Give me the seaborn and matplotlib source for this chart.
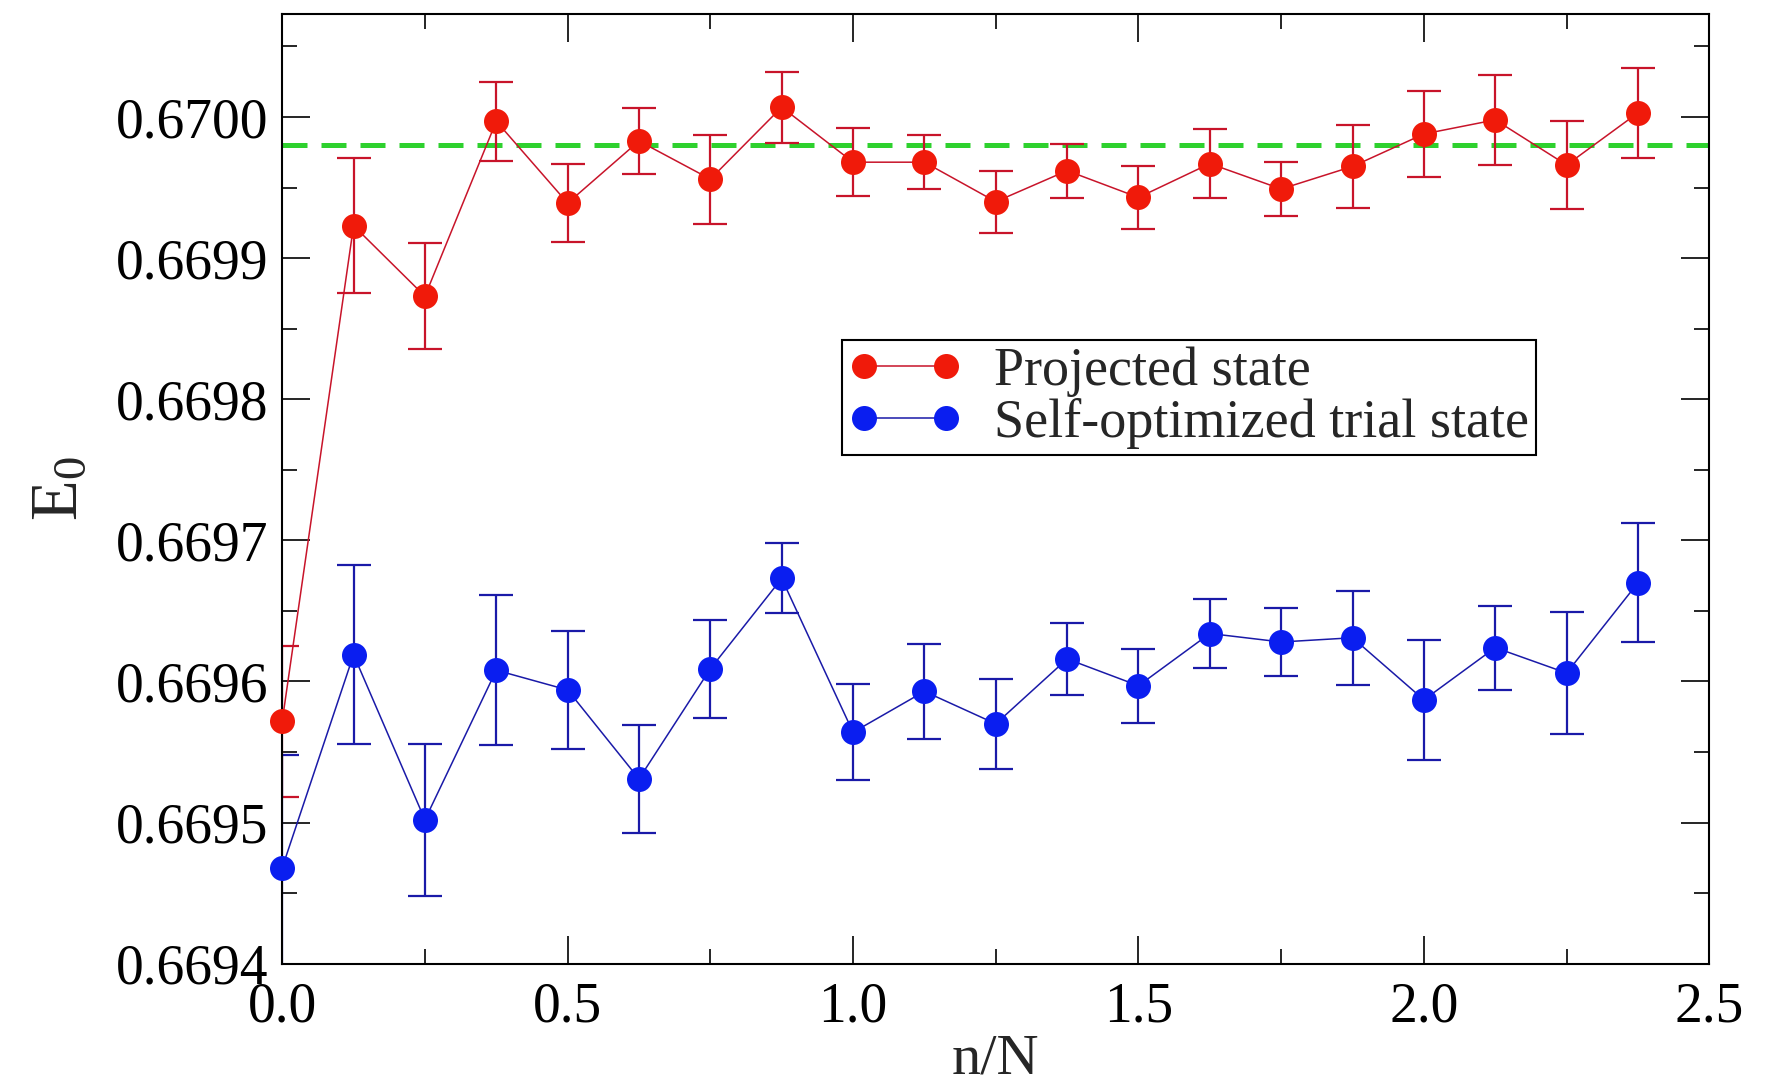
import matplotlib
matplotlib.use("Agg")
import matplotlib.pyplot as plt
import seaborn as sns
import pandas as pd
from matplotlib.lines import Line2D
from matplotlib.ticker import MultipleLocator, FormatStrFormatter

# ---- data ----
x_vals = [0.0, 0.125, 0.25, 0.375, 0.5, 0.625, 0.75, 0.875, 1.0, 1.125,
          1.25, 1.375, 1.5, 1.625, 1.75, 1.875, 2.0, 2.125, 2.25, 2.375]

proj_E = [0.669572, 0.669923, 0.669873, 0.669997, 0.669939, 0.669983, 0.669956,
          0.670007, 0.669968, 0.669968, 0.669940, 0.669962, 0.669943, 0.669967,
          0.669949, 0.669965, 0.669988, 0.669998, 0.669966, 0.670003]
proj_err = [0.0000535, 0.0000480, 0.0000376, 0.0000280, 0.0000274, 0.0000234,
            0.0000315, 0.0000252, 0.0000242, 0.0000191, 0.0000219, 0.0000192,
            0.0000220, 0.0000246, 0.0000190, 0.0000296, 0.0000307, 0.0000320,
            0.0000314, 0.0000320]

self_E = [0.669468, 0.669619, 0.669502, 0.669608, 0.669594, 0.669531, 0.669609,
          0.669673, 0.669564, 0.669593, 0.669570, 0.669616, 0.669597, 0.669634,
          0.669628, 0.669631, 0.669587, 0.669624, 0.669606, 0.669670]
self_err = [0.0000800, 0.0000635, 0.0000539, 0.0000533, 0.0000416, 0.0000382,
            0.0000346, 0.0000248, 0.0000339, 0.0000339, 0.0000319, 0.0000254,
            0.0000262, 0.0000242, 0.0000240, 0.0000334, 0.0000423, 0.0000298,
            0.0000435, 0.0000423]

ref_E = 0.669980

labels = ["Projected state", "Self-optimized trial state"]
x_label = "n/N"
y_label = r"$\mathregular{E_0}$"

# ---- style ----
sns.set_theme(style="ticks")
plt.rcParams["font.family"] = ["Liberation Serif", "DejaVu Serif"]
plt.rcParams["mathtext.fontset"] = "custom"
plt.rcParams["mathtext.rm"] = "Liberation Serif"

red_m, red_l = "#f01a0a", "#c8142a"
blue_m, blue_l = "#0a1ef0", "#1a1aa8"
green = "#2ed12e"

fig = plt.figure(figsize=(17.75, 10.78), dpi=100)
ax = fig.add_axes([0.159, 0.106, 0.804, 0.881])

df = pd.DataFrame({"x": x_vals * 2,
                   "E": proj_E + self_E,
                   "series": [labels[0]] * len(x_vals) + [labels[1]] * len(x_vals)})

ax.axhline(ref_E, color=green, lw=3.6, dashes=(5.0, 2.8), zorder=1)

for lab, ecol, err, mcol in [(labels[0], red_l, proj_err, red_m),
                             (labels[1], blue_l, self_err, blue_m)]:
    sub = df[df["series"] == lab]
    ax.errorbar(sub["x"], sub["E"], yerr=err, fmt="none", ecolor=ecol,
                elinewidth=1.6, capsize=12, capthick=1.6, zorder=2)
    sns.lineplot(data=sub, x="x", y="E", ax=ax, color=ecol, lw=1.1,
                 marker="o", markersize=18, markerfacecolor=mcol,
                 markeredgecolor=mcol, markeredgewidth=0, legend=False,
                 zorder=3, clip_on=False)

ax.set_xlim(0, 2.5)
ax.set_ylim(0.6694, 0.670073)
ax.xaxis.set_major_locator(MultipleLocator(0.5))
ax.xaxis.set_minor_locator(MultipleLocator(0.25))
ax.yaxis.set_major_locator(MultipleLocator(0.0001))
ax.yaxis.set_minor_locator(MultipleLocator(0.00005))
ax.xaxis.set_major_formatter(FormatStrFormatter("%.1f"))
ax.yaxis.set_major_formatter(FormatStrFormatter("%.4f"))

ax.tick_params(which="both", direction="in", top=True, right=True,
               colors="black", width=1.2)
ax.tick_params(which="major", length=20, labelsize=40)
ax.tick_params(which="minor", length=11)
ax.tick_params(axis="x", which="major", pad=13)
ax.tick_params(axis="y", which="major", pad=10)
for s in ax.spines.values():
    s.set_linewidth(1.5)
    s.set_color("black")

ax.set_xlabel(x_label, fontsize=42, labelpad=0)
ax.set_ylabel(y_label, fontsize=48, labelpad=18)

handles = [Line2D([0], [0], color=red_l, lw=1.1, marker="o", markersize=18,
                  markerfacecolor=red_m, markeredgewidth=0),
           Line2D([0], [0], color=blue_l, lw=1.1, marker="o", markersize=18,
                  markerfacecolor=blue_m, markeredgewidth=0)]
leg = ax.legend(handles, labels, loc="upper left", bbox_to_anchor=(0.392, 0.657),
                numpoints=2, handlelength=2.1, fontsize=39, frameon=True,
                fancybox=False, framealpha=1, edgecolor="black",
                borderpad=0.12, labelspacing=0.02, handletextpad=0.6,
                borderaxespad=0)
leg.get_frame().set_linewidth(1.5)

fig.savefig("out.png", dpi=100)
